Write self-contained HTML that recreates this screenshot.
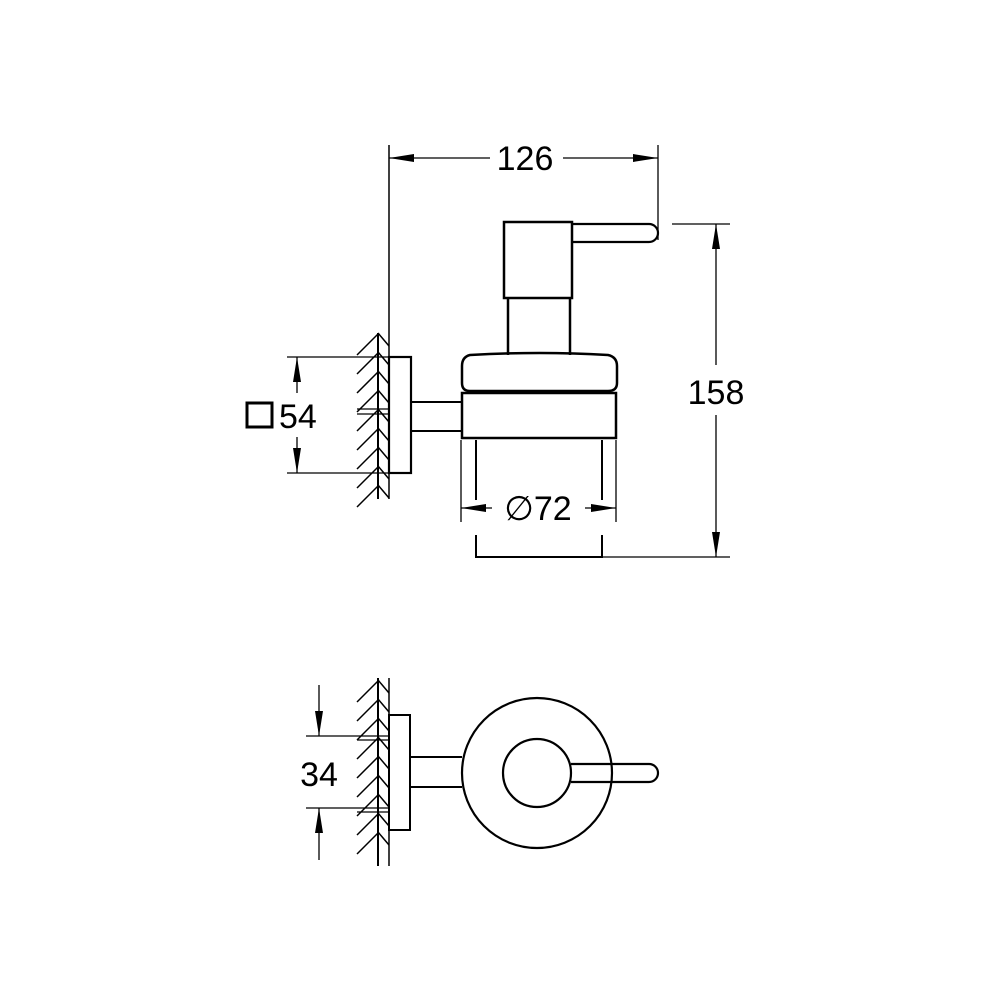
<!DOCTYPE html>
<html><head><meta charset="utf-8"><style>
html,body{margin:0;padding:0;background:#fff}
svg{display:block}
text{font-family:"Liberation Sans",Arial,sans-serif;fill:#000}
</style></head><body>
<svg width="1000" height="1000" viewBox="0 0 1000 1000" xmlns="http://www.w3.org/2000/svg">
<defs>
<g id="hatch" stroke="#000" stroke-width="1.5" fill="none">
<path d="M357 22 L378 1 M357 41 L378 20 M357 60 L378 39 M357 79 L378 58 M357 98 L378 77 M357 117 L378 96 M357 136 L378 115 M357 155 L378 134 M357 174 L378 153"/>
<path d="M378 0 L389 13 M378 19 L389 32 M378 38 L389 51 M378 57 L389 70 M378 76 L389 89 M378 95 L389 108 M378 114 L389 127 M378 133 L389 146 M378 152 L389 165"/>
</g>
</defs>
<g stroke="#000" fill="none">
<!-- TOP VIEW -->
<!-- wall -->
<line x1="378" y1="333" x2="378" y2="499" stroke-width="2"/>
<line x1="389" y1="145" x2="389" y2="499" stroke-width="1.5"/>
<use href="#hatch" transform="translate(0,333)"/>
<line x1="357" y1="409" x2="389" y2="409" stroke-width="1.2"/>
<line x1="357" y1="414" x2="389" y2="414" stroke-width="1.2"/>
<!-- flange -->
<rect x="389" y="357" width="22" height="116" stroke-width="2.2"/>
<!-- arm -->
<line x1="411" y1="402" x2="461" y2="402" stroke-width="2"/>
<line x1="411" y1="431" x2="461" y2="431" stroke-width="2"/>
<!-- band -->
<rect x="462" y="393" width="154" height="45" stroke-width="2.5"/>
<!-- cap -->
<path d="M470 355 Q540 351 608 355 Q617 357 617 366 L617 383 Q617 391 608 391 L470 391 Q462 391 462 383 L462 366 Q462 357 470 355 Z" stroke-width="2.5"/>
<!-- pump neck -->
<line x1="508" y1="298" x2="508" y2="355" stroke-width="2.5"/>
<line x1="570" y1="298" x2="570" y2="355" stroke-width="2.5"/>
<!-- pump head -->
<rect x="504" y="222" width="68" height="76" stroke-width="2.5"/>
<!-- spout -->
<path d="M572 224 L649 224 A9 9 0 0 1 649 242 L572 242" stroke-width="2.2"/>
<!-- glass -->
<line x1="476" y1="440" x2="476" y2="500" stroke-width="2"/>
<line x1="602" y1="440" x2="602" y2="500" stroke-width="2"/>
<path d="M476 535 L476 557 L602 557 L602 535" stroke-width="2"/>
<line x1="602" y1="557" x2="730" y2="557" stroke-width="1.3"/>
<!-- dim 72 -->
<line x1="461" y1="440" x2="461" y2="522" stroke-width="1.3"/>
<line x1="616" y1="440" x2="616" y2="522" stroke-width="1.3"/>
<line x1="461" y1="508" x2="492" y2="508" stroke-width="1.3"/>
<line x1="585" y1="508" x2="616" y2="508" stroke-width="1.3"/>
<!-- dim 126 -->
<line x1="658" y1="145" x2="658" y2="240" stroke-width="1.3"/>
<line x1="389" y1="158" x2="490" y2="158" stroke-width="1.3"/>
<line x1="563" y1="158" x2="658" y2="158" stroke-width="1.3"/>
<!-- dim 158 -->
<line x1="672" y1="224" x2="730" y2="224" stroke-width="1.3"/>
<line x1="716" y1="224" x2="716" y2="365" stroke-width="1.3"/>
<line x1="716" y1="415" x2="716" y2="557" stroke-width="1.3"/>
<!-- dim 54 -->
<line x1="287" y1="357" x2="389" y2="357" stroke-width="1.3"/>
<line x1="287" y1="473" x2="389" y2="473" stroke-width="1.3"/>
<line x1="297" y1="357" x2="297" y2="393" stroke-width="1.3"/>
<line x1="297" y1="437" x2="297" y2="473" stroke-width="1.3"/>
<rect x="247" y="403" width="25" height="24" stroke-width="3"/>

<!-- BOTTOM VIEW -->
<line x1="378" y1="678" x2="378" y2="866" stroke-width="2"/>
<line x1="389" y1="678" x2="389" y2="866" stroke-width="1.5"/>
<use href="#hatch" transform="translate(0,680)"/>
<line x1="357" y1="740" x2="389" y2="740" stroke-width="1.2"/>
<line x1="357" y1="812" x2="389" y2="812" stroke-width="1.2"/>
<rect x="389" y="715" width="21" height="115" stroke-width="2"/>
<line x1="410" y1="757" x2="462" y2="757" stroke-width="2"/>
<line x1="410" y1="787" x2="462" y2="787" stroke-width="2"/>
<circle cx="537" cy="773" r="75" stroke-width="2.2"/>
<circle cx="537" cy="773" r="34" stroke-width="2.2"/>
<path d="M571 764 L649 764 A9 9 0 0 1 649 782 L571 782" stroke-width="2.2"/>
<line x1="306" y1="736" x2="390" y2="736" stroke-width="1.3"/>
<line x1="306" y1="808" x2="390" y2="808" stroke-width="1.3"/>
<line x1="319" y1="685" x2="319" y2="736" stroke-width="1.3"/>
<line x1="319" y1="808" x2="319" y2="860" stroke-width="1.3"/>
</g>
<g fill="#000">
<!-- arrowheads -->
<polygon points="389,158 414,154 414,162"/>
<polygon points="658,158 633,154 633,162"/>
<polygon points="716,224 712,249 720,249"/>
<polygon points="716,557 712,532 720,532"/>
<polygon points="461,508 486,504 486,512"/>
<polygon points="616,508 591,504 591,512"/>
<polygon points="297,357 293,382 301,382"/>
<polygon points="297,473 293,448 301,448"/>
<polygon points="319,736 315,711 323,711"/>
<polygon points="319,808 315,833 323,833"/>
</g>
<text x="525" y="170" font-size="34" text-anchor="middle">126</text>
<text x="716" y="404" font-size="34" text-anchor="middle">158</text>
<text x="279" y="428" font-size="34">54</text>
<text x="319" y="786" font-size="34" text-anchor="middle">34</text>
<text x="538" y="520" font-size="34" text-anchor="middle">∅72</text>
</svg>
</body></html>
